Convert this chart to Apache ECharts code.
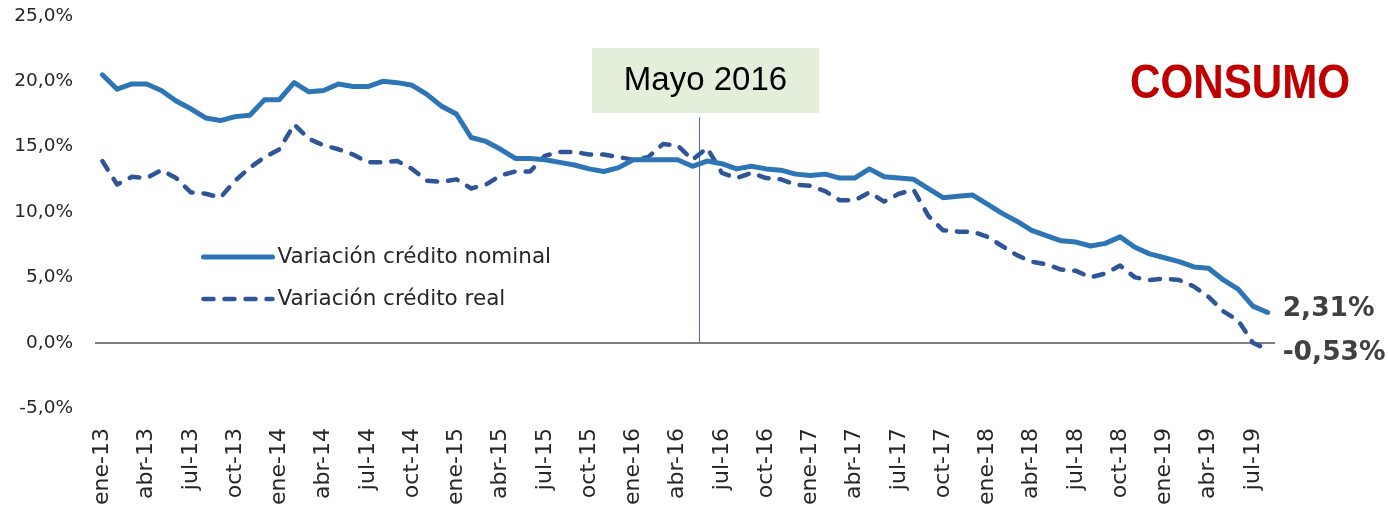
<!DOCTYPE html>
<html>
<head>
<meta charset="utf-8">
<script src="https://cdn.jsdelivr.net/npm/echarts@6/dist/echarts.min.js"></script>
<style>
html,body{margin:0;padding:0;background:#fff;}
#chart{width:1388px;height:508px;}
</style>
</head>
<body>
<div id="chart"></div>
<script>
const months = ['ene','feb','mar','abr','may','jun','jul','ago','sep','oct','nov','dic'];
const years = ['13','14','15','16','17','18','19'];
const categories = [];
years.forEach(y => months.forEach(m => categories.push(m + '-' + y)));
categories.length = 80; // ene-13 .. ago-19

const nominal = [
  20.5, 19.4, 19.8, 19.8, 19.3, 18.5, 17.9, 17.2, 17.0, 17.3, 17.4, 18.6,
  18.6, 19.9, 19.2, 19.3, 19.8, 19.6, 19.6, 20.0, 19.9, 19.7, 19.0, 18.1,
  17.5, 15.7, 15.4, 14.8, 14.1, 14.1, 14.0, 13.8, 13.6, 13.3, 13.1, 13.4,
  14.0, 14.0, 14.0, 14.0, 13.5, 13.9, 13.7, 13.3, 13.5, 13.3, 13.2, 12.9,
  12.8, 12.9, 12.6, 12.6, 13.3, 12.7, 12.6, 12.5, 11.8, 11.1, 11.2, 11.3,
  10.6, 9.9, 9.3, 8.6, 8.2, 7.8, 7.7, 7.4, 7.6, 8.1, 7.3, 6.8,
  6.5, 6.2, 5.8, 5.7, 4.8, 4.1, 2.8, 2.31
];
const real = [
  13.9, 12.1, 12.7, 12.6, 13.2, 12.6, 11.5, 11.4, 11.1, 12.4, 13.4, 14.2,
  14.8, 16.7, 15.6, 15.1, 14.8, 14.4, 13.8, 13.8, 13.9, 13.3, 12.4, 12.3,
  12.5, 11.8, 12.1, 12.8, 13.1, 13.1, 14.3, 14.6, 14.6, 14.4, 14.4, 14.2,
  14.0, 14.2, 15.2, 15.1, 14.0, 14.9, 13.0, 12.6, 13.0, 12.6, 12.5, 12.1,
  12.0, 11.6, 10.9, 10.9, 11.5, 10.8, 11.4, 11.7, 9.7, 8.6, 8.5, 8.5,
  8.1, 7.4, 6.7, 6.2, 6.0, 5.6, 5.5, 5.0, 5.3, 5.9, 5.0, 4.8,
  4.9, 4.8, 4.3, 3.5, 2.4, 1.7, 0.0, -0.53
];
const seriesNames = ['Variación crédito nominal', 'Variación crédito real'];
const yTicks = { min: -5, max: 25, interval: 5 };
const eventLabel = 'Mayo 2016';
const eventCategory = 'may-16';
const eventFraction = 0.45;   // the marker sits a little after the may-16 point
const eventTop = 17.25;
const badge = 'CONSUMO';

const FONT = '"DejaVu Sans", Verdana, sans-serif';
const chart = echarts.init(document.getElementById('chart'), null, { renderer: 'canvas' });

const baseGraphics = [
  {
    id: 'eventBox',
    type: 'group',
    left: 592,
    top: 48,
    children: [
      { type: 'rect', shape: { x: 0, y: 0, width: 227, height: 65 }, style: { fill: '#E2EFDA' } },
      { type: 'text', style: { x: 113.5, y: 33, text: eventLabel, textAlign: 'center', textVerticalAlign: 'middle',
        font: '33px "Liberation Sans", Arial, sans-serif', fill: '#000000' } }
    ]
  },
  {
    id: 'badge',
    type: 'text',
    x: 1130,
    y: 84,
    scaleX: 0.86,
    style: { text: badge, textAlign: 'left', textVerticalAlign: 'middle',
      font: 'bold 49px "Liberation Sans", Arial, sans-serif', fill: '#C00000' }
  }
];

const fmtEnd = p => p.value.toFixed(2).replace('.', ',') + '%';

chart.setOption({
  animation: false,
  backgroundColor: '#ffffff',
  grid: { left: 95, right: 113, top: 16, bottom: 99, containLabel: false },
  legend: {
    orient: 'vertical',
    left: 196,
    top: 241,
    itemWidth: 69,
    itemHeight: 14,
    itemGap: 20,
    itemStyle: { opacity: 0 },
    textStyle: { fontFamily: FONT, fontSize: 21.5, color: '#262626' },
    data: [
      { name: seriesNames[0], lineStyle: { width: 5, cap: 'round' } },
      { name: seriesNames[1], lineStyle: { width: 4.5, cap: 'round' } }
    ]
  },
  xAxis: {
    type: 'category',
    data: categories,
    boundaryGap: true,
    axisLine: { show: false },
    axisTick: { show: false },
    axisLabel: {
      interval: 2,
      rotate: 90,
      margin: 20,
      fontFamily: FONT,
      fontSize: 22,
      color: '#262626'
    },
    splitLine: { show: false }
  },
  yAxis: {
    type: 'value',
    min: yTicks.min,
    max: yTicks.max,
    interval: yTicks.interval,
    axisLine: { show: false },
    axisTick: { show: false },
    splitLine: { show: false },
    axisLabel: {
      margin: 22,
      fontFamily: FONT,
      fontSize: 18.5,
      color: '#262626',
      formatter: v => v.toFixed(1).replace('.', ',') + '%'
    }
  },
  graphic: baseGraphics,
  series: [
    {
      name: seriesNames[0],
      type: 'line',
      data: nominal,
      symbol: 'none',
      z: 3,
      lineStyle: { color: '#2E75B6', width: 5, cap: 'round', join: 'round' },
      itemStyle: { color: '#2E75B6' },
      endLabel: {
        show: true,
        formatter: fmtEnd,
        fontFamily: FONT, fontSize: 26.5, fontWeight: 'bold', color: '#404040',
        distance: 15, offset: [0, -3]
      },
      markLine: {
        silent: true,
        symbol: 'none',
        label: { show: false },
        z: 1,
        data: [
          { yAxis: 0, lineStyle: { color: '#7F7F7F', width: 2, type: 'solid' } }
        ]
      }
    },
    {
      name: seriesNames[1],
      type: 'line',
      data: real,
      symbol: 'none',
      z: 2,
      lineStyle: { color: '#2F5597', width: 4.5, type: [10, 11], cap: 'round', join: 'round' },
      itemStyle: { color: '#2F5597' },
      endLabel: {
        show: true,
        formatter: fmtEnd,
        fontFamily: FONT, fontSize: 26.5, fontWeight: 'bold', color: '#404040',
        distance: 15, offset: [0, 3]
      }
    }
  ]
});

// Event marker line positioned through the chart's own scales
const idx = categories.indexOf(eventCategory);
const xa = chart.convertToPixel({ xAxisIndex: 0 }, categories[idx]);
const xb = chart.convertToPixel({ xAxisIndex: 0 }, categories[idx + 1]);
const xEvent = xa + (xb - xa) * eventFraction;
const yZero = chart.convertToPixel({ yAxisIndex: 0 }, 0);
const yTop = chart.convertToPixel({ yAxisIndex: 0 }, eventTop);
chart.setOption({
  graphic: baseGraphics.concat([{
    id: 'eventLine',
    type: 'line',
    z: 1,
    shape: { x1: Math.round(xEvent) + 0.5, y1: yZero, x2: Math.round(xEvent) + 0.5, y2: yTop },
    style: { stroke: '#4A66AC', lineWidth: 1 }
  }])
});
</script>
</body>
</html>
